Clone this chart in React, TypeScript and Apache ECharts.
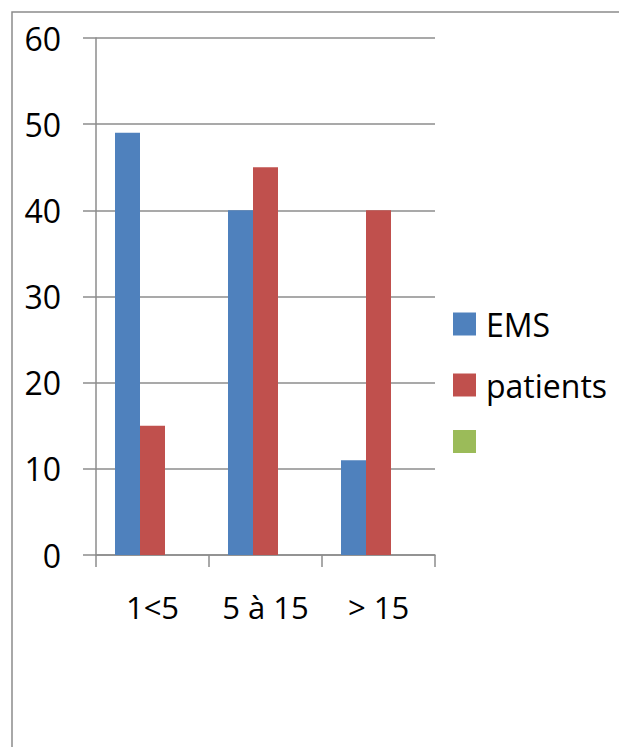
import React, { useEffect, useRef } from "react";
import * as echarts from "echarts";

const categories = ["1<5", "5 à 15", "> 15"];
const emsValues = [49, 40, 11];
const patientValues = [15, 45, 40];
const thirdValues: number[] = [];
const seriesNames = ["EMS", "patients", "Série3"];
const yTicks = { min: 0, max: 60, interval: 10 };

export default function App() {
  const ref = useRef<HTMLDivElement>(null);
  useEffect(() => {
    if (!ref.current) return;
    const chart = echarts.init(ref.current, undefined, { renderer: "svg" });
    const font = "'Open Sans', 'Liberation Sans', sans-serif";
    const gray = "#8c8c8c";
    chart.setOption({
      animation: false,
      backgroundColor: "#ffffff",
      graphic: [
        {
          type: "rect",
          shape: { x: 12, y: 12, width: 800, height: 900 },
          style: { fill: "none", stroke: gray, lineWidth: 1.5 },
          silent: true,
        },
      ],
      grid: { left: 96, right: 184, top: 38, bottom: 192 },
      legend: {
        orient: "vertical",
        left: 448,
        top: 303,
        itemWidth: 23,
        itemHeight: 23,
        itemGap: 29,
        icon: "rect",
        data: seriesNames,
        formatter: (name: string) => (name === seriesNames[2] ? "" : name),
        textStyle: {
          fontFamily: font,
          fontSize: 32,
          color: "#000",
          lineHeight: 23,
          padding: [0, 0, 0, 5],
        },
      },
      xAxis: {
        type: "category",
        data: categories,
        axisLine: { lineStyle: { color: gray, width: 1.5 } },
        axisTick: { show: true, length: 12, lineStyle: { color: gray, width: 1.5 } },
        axisLabel: { fontFamily: font, fontSize: 31, color: "#000", margin: 36 },
      },
      yAxis: {
        type: "value",
        min: yTicks.min,
        max: yTicks.max,
        interval: yTicks.interval,
        axisLine: { show: true, lineStyle: { color: gray, width: 1.5 } },
        axisTick: { show: true, length: 13, lineStyle: { color: gray, width: 1.5 } },
        splitLine: { show: true, lineStyle: { color: gray, width: 1.5 } },
        axisLabel: { fontFamily: font, fontSize: 32, color: "#000", margin: 35 },
      },
      series: [
        {
          name: seriesNames[0],
          type: "bar",
          data: emsValues,
          barWidth: 25,
          barGap: "0%",
          itemStyle: { color: "#4F81BD" },
        },
        {
          name: seriesNames[1],
          type: "bar",
          data: patientValues,
          barWidth: 25,
          barGap: "0%",
          itemStyle: { color: "#C0504D" },
        },
        {
          name: seriesNames[2],
          type: "bar",
          data: thirdValues,
          barWidth: 25,
          barGap: "0%",
          itemStyle: { color: "#9BBB59" },
        },
      ],
    });
    return () => chart.dispose();
  }, []);
  return (
    <div
      ref={ref}
      style={{ position: "fixed", left: 0, top: 0, width: 619, height: 747 }}
    />
  );
}
